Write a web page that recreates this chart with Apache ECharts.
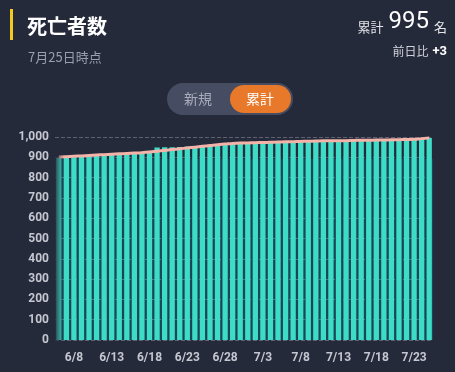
<!DOCTYPE html>
<html><head><meta charset="utf-8">
<script src="https://cdn.jsdelivr.net/npm/echarts@6/dist/echarts.min.js"></script>
<style>html,body{margin:0;padding:0;background:#252a3b;}#c{width:455px;height:372px;}</style>
</head><body><div id="c"></div>
<script>
const dates = ['6/6','6/7','6/8','6/9','6/10','6/11','6/12','6/13','6/14','6/15','6/16','6/17','6/18','6/19','6/20','6/21','6/22','6/23','6/24','6/25','6/26','6/27','6/28','6/29','6/30','7/1','7/2','7/3','7/4','7/5','7/6','7/7','7/8','7/9','7/10','7/11','7/12','7/13','7/14','7/15','7/16','7/17','7/18','7/19','7/20','7/21','7/22','7/23','7/24','7/25'];
const cumulative = [897,898,900,903,907,912,914,916,917,919,920,922,925,948,949,950,951,953,956,958,959,962,964,968,970,971,972,973,974,975,976,977,978,979,980,981,981,982,982,983,984,984,985,985,986,987,988,989,992,995];
const trend = [901,903,905,907,909,911,913,915,917,919,921,923,926,930,934,938,942,946,950,954,958,962,965,968,970,971,972,973,974,975,976,977,978,979,980,981,981,982,982,983,984,984,985,985,986,987,988,989,992,995];
const yTicks = [0,100,200,300,400,500,600,700,800,900,1000];

const chart = echarts.init(document.getElementById('c'));
chart.setOption({
  backgroundColor:'#252a3b',
  animation:false,
  title:[
    {text:'死亡者数',left:22,top:11,textStyle:{color:'#ffffff',fontSize:20,fontWeight:'bold',fontFamily:'Noto Sans CJK JP'}},
    {text:'7月25日時点',left:23,top:46,textStyle:{color:'#9a9eae',fontSize:13,fontWeight:'normal',fontFamily:'Noto Sans CJK JP'}}
  ],
  graphic:{elements:[
    {id:'ybar',type:'rect',shape:{x:10,y:9,width:3,height:31},style:{fill:'#f2c91c'}},
    {id:'total',type:'text',right:8,top:10,style:{rich:{
        a:{fill:'#e6e6ea',fontSize:13,fontFamily:'Noto Sans CJK JP',verticalAlign:'bottom'},
        b:{fill:'#ffffff',fontSize:24,fontFamily:'Roboto',padding:[0,5,0,5],verticalAlign:'bottom'},
        c:{fill:'#e6e6ea',fontSize:13,fontFamily:'Noto Sans CJK JP',verticalAlign:'bottom'}},
      text:'{a|累計}{b|995}{c|名}'}},
    {id:'diff',type:'text',right:8,top:45,style:{rich:{
        a:{fill:'#d0d2da',fontSize:12,fontFamily:'Noto Sans CJK JP'},
        b:{fill:'#ffffff',fontSize:13,fontWeight:'bold',fontFamily:'Roboto',padding:[0,0,0,4]}},
      text:'{a|前日比}{b|+3}'}},
    {id:'pill',type:'rect',shape:{x:167,y:83,width:126,height:32,r:16},style:{fill:'#464c62'}},
    {id:'pillOn',type:'rect',shape:{x:230,y:85,width:61,height:28,r:14},style:{fill:'#e8782a'}},
    {id:'t1',type:'text',x:198,y:99,style:{text:'新規',fill:'#a9adbb',fontSize:14,fontFamily:'Noto Sans CJK JP',align:'center',verticalAlign:'middle'}},
    {id:'t2',type:'text',x:260,y:99,style:{text:'累計',fill:'#ffffff',fontSize:14,fontFamily:'Noto Sans CJK JP',align:'center',verticalAlign:'middle'}}
  ]},
  grid:{left:55,right:22,top:137,bottom:32},
  xAxis:{type:'category',data:dates,
    axisLine:{show:false},axisTick:{show:false},
    axisLabel:{color:'#c4c6d0',fontSize:12,fontWeight:'bold',fontFamily:'Roboto',margin:12,
      interval:function(i){return i%5===2;}}},
  yAxis:{type:'value',min:0,max:1000,interval:100,
    axisLine:{show:false},axisTick:{show:false},
    axisLabel:{color:'#c4c6d0',fontSize:12,fontWeight:'bold',fontFamily:'Roboto',margin:6,
      formatter:function(v){return yTicks.indexOf(v)>=0?v.toLocaleString('en-US'):'';}},
    splitLine:{lineStyle:{color:'rgba(200,200,215,0.35)',type:'dashed',width:1}}},
  series:[
    {type:'bar',data:cumulative,barCategoryGap:'30%',z:3,itemStyle:{color:'#3ddcc6'}},
    {type:'line',data:trend,symbol:'none',smooth:true,z:5,lineStyle:{color:'#f3b3a9',width:3}}
  ]
});
// dark teal backdrop visible in the gaps between bars, and a fade at the left edge
const minTop = chart.convertToPixel({xAxisIndex:0,yAxisIndex:0},[0,Math.min.apply(null,cumulative)]);
const zero = chart.convertToPixel({xAxisIndex:0,yAxisIndex:0},[0,0]);
const rightEnd = chart.convertToPixel({xAxisIndex:0,yAxisIndex:0},[dates.length-1,0]);
const halfBand = (rightEnd[0]-zero[0])/(dates.length-1)/2;
const left = zero[0]-halfBand, right = rightEnd[0]+halfBand;
chart.setOption({graphic:{elements:[
  {id:'backdrop',type:'rect',z:-10,shape:{x:left,y:minTop[1]+1,width:right-left,height:zero[1]-minTop[1]-1},style:{fill:'#1b4659'}},
  {id:'fade',type:'rect',z:100,shape:{x:left-1,y:minTop[1]-6,width:10,height:zero[1]-minTop[1]+7},style:{fill:new echarts.graphic.LinearGradient(0,0,1,0,[{offset:0,color:'rgba(37,42,59,0.9)'},{offset:1,color:'rgba(37,42,59,0)'}])}}
]}});
</script></body></html>
